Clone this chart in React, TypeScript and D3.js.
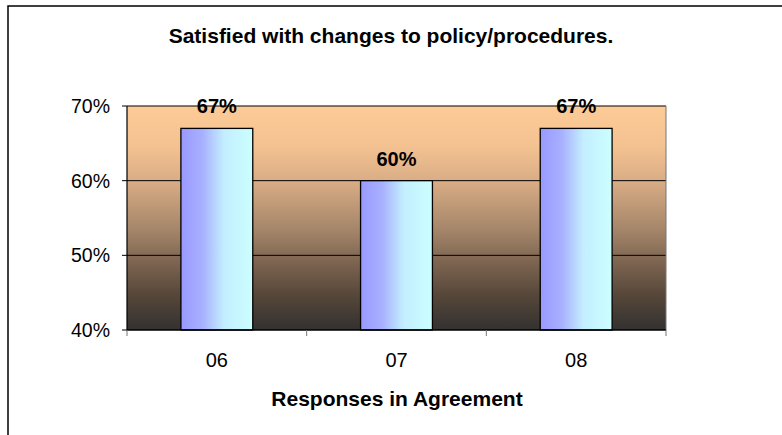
import React from "react";
import * as d3 from "d3";

const categories = ["06", "07", "08"];
const values = [0.67, 0.6, 0.67];
const valueLabels = ["67%", "60%", "67%"];
const yTicks = [0.4, 0.5, 0.6, 0.7];
const title = "Satisfied with changes to policy/procedures.";
const xTitle = "Responses in Agreement";

export default function App() {
  const W = 782, H = 435;
  const left = 127, right = 666, top = 106, bottom = 330;
  const y = d3.scaleLinear().domain([0.4, 0.7]).range([bottom, top]);
  const x = d3.scaleBand().domain(categories).range([left, right]).paddingInner(0.6).paddingOuter(0.3);
  const xb = d3.scaleBand().domain(categories).range([left, right]);
  const font = "Arial, 'Liberation Sans', sans-serif";
  return (
    <svg width={W} height={H} style={{ position: "absolute", left: 0, top: 0 }}>
      <defs>
        <linearGradient id="bg" x1="0" y1="0" x2="0" y2="1">
          <stop offset="0" stopColor="#FCCB97" />
          <stop offset="0.18" stopColor="#F4C291" />
          <stop offset="0.34" stopColor="#D8AC85" />
          <stop offset="0.55" stopColor="#A5866A" />
          <stop offset="0.7" stopColor="#7C6450" />
          <stop offset="0.85" stopColor="#554639" />
          <stop offset="1" stopColor="#333131" />
        </linearGradient>
        <linearGradient id="bar" x1="0" y1="0" x2="1" y2="0">
          <stop offset="0" stopColor="#9999FF" />
          <stop offset="0.3" stopColor="#A8B0FF" />
          <stop offset="0.6" stopColor="#C3EEFF" />
          <stop offset="1" stopColor="#CCFFFF" />
        </linearGradient>
      </defs>
      <rect x={8} y={6} width={W + 10} height={H + 10} fill="white" stroke="#000" strokeWidth={1.5} />
      <text x={391} y={43} textAnchor="middle" fontFamily={font} fontWeight="bold" fontSize={21} fill="#000">{title}</text>
      <rect x={left} y={top} width={right - left} height={bottom - top} fill="url(#bg)" />
      {yTicks.slice(1, -1).map((t) => (
        <line key={t} x1={left} x2={right} y1={y(t)} y2={y(t)} stroke="#000" strokeWidth={1} />
      ))}
      <line x1={left} x2={right} y1={top} y2={top} stroke="#000" strokeWidth={1.2} />
      <line x1={right} x2={right} y1={top} y2={bottom} stroke="#777" strokeWidth={1} />
      <line x1={left} x2={left} y1={top} y2={bottom} stroke="#000" strokeWidth={1.2} />
      {categories.map((c, i) => (
        <g key={c}>
          <rect x={x(c)!} y={y(values[i])} width={x.bandwidth()} height={bottom - y(values[i])} fill="url(#bar)" stroke="#000" strokeWidth={1.3} />
          <text x={x(c)! + x.bandwidth() / 2} y={y(values[i]) - 15} textAnchor="middle" fontFamily={font} fontWeight="bold" fontSize={20} fill="#000">{valueLabels[i]}</text>
          <text x={xb(c)! + xb.bandwidth() / 2} y={367} textAnchor="middle" fontFamily={font} fontSize={20} fill="#000">{c}</text>
        </g>
      ))}
      <line x1={left} x2={right} y1={bottom} y2={bottom} stroke="#000" strokeWidth={1.5} />
      {[...categories.map((c) => xb(c)!), right].map((v, i) => (
        <line key={i} x1={v} x2={v} y1={bottom} y2={bottom + 6} stroke="#777" strokeWidth={1} />
      ))}
      {yTicks.map((t) => (
        <g key={t}>
          <line x1={left - 5} x2={left} y1={y(t)} y2={y(t)} stroke="#000" strokeWidth={1} />
          <text x={110} y={y(t) + 7} textAnchor="end" fontFamily={font} fontSize={19.5} fill="#000">{d3.format(".0%")(t)}</text>
        </g>
      ))}
      <text x={397} y={406} textAnchor="middle" fontFamily={font} fontWeight="bold" fontSize={21} fill="#000">{xTitle}</text>
    </svg>
  );
}
